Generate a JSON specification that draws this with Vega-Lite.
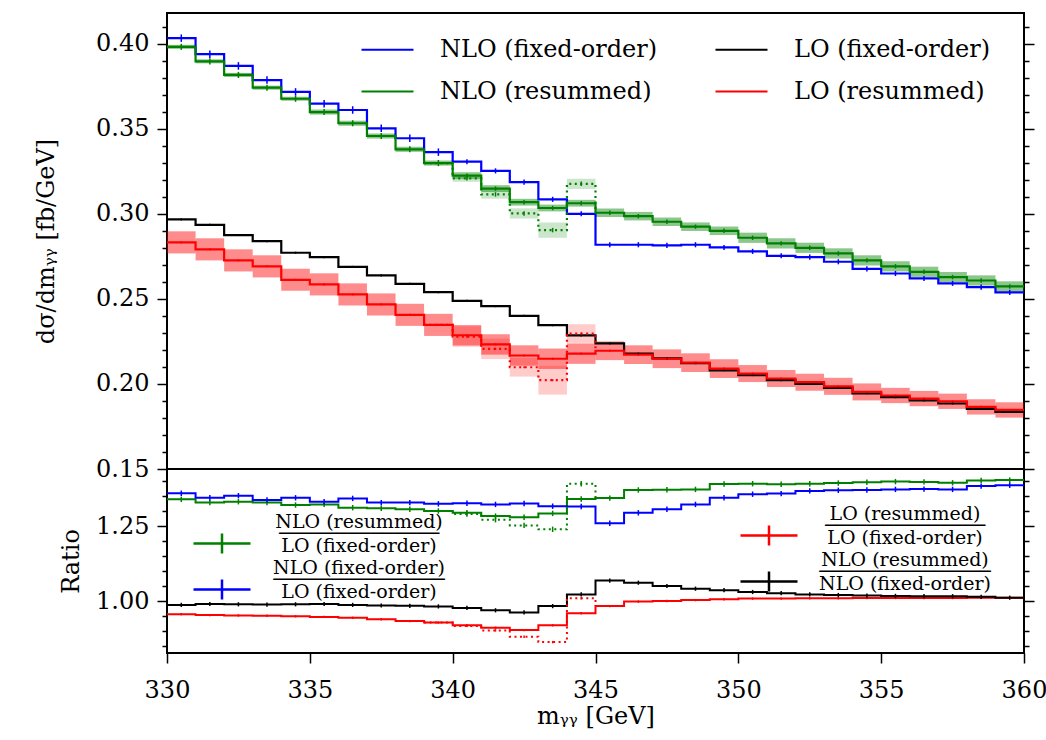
{
"$schema": "https://vega.github.io/schema/vega-lite/v6.json",
"padding": {"left": 33, "top": 12, "right": 5, "bottom": 5},
"bounds": "flush",
"spacing": 0,
"config": {
  "font": "DejaVu Serif",
  "view": {"stroke": "#000000", "strokeWidth": 2},
  "axis": {"labelFont": "DejaVu Serif", "labelFontSize": 24, "labelColor": "#000000", "titleFont": "DejaVu Serif", "titleFontSize": 24, "titleFontWeight": "normal", "titleColor": "#000000", "tickColor": "#000000", "tickWidth": 1.5, "domain": false, "grid": false, "labelOverlap": false, "labelFlush": false, "labelBound": false},
  "legend": {"labelFont": "DejaVu Serif", "labelColor": "#000000", "padding": 0, "labelLimit": 600},
  "style": {"guide-label": {"lineHeight": 12, "lineBreak": "\n"}}
},
"datasets": {
"top": [
{"s":"NLO (fixed-order)","a":330,"b":331,"m":330.5,"y":0.4032,"e":0.0022},
{"s":"NLO (fixed-order)","a":331,"b":332,"m":331.5,"y":0.3938,"e":0.0022},
{"s":"NLO (fixed-order)","a":332,"b":333,"m":332.5,"y":0.3869,"e":0.0022},
{"s":"NLO (fixed-order)","a":333,"b":334,"m":333.5,"y":0.3786,"e":0.0022},
{"s":"NLO (fixed-order)","a":334,"b":335,"m":334.5,"y":0.3716,"e":0.0022},
{"s":"NLO (fixed-order)","a":335,"b":336,"m":335.5,"y":0.3647,"e":0.0022},
{"s":"NLO (fixed-order)","a":336,"b":337,"m":336.5,"y":0.3610,"e":0.0022},
{"s":"NLO (fixed-order)","a":337,"b":338,"m":337.5,"y":0.3502,"e":0.0022},
{"s":"NLO (fixed-order)","a":338,"b":339,"m":338.5,"y":0.3444,"e":0.0022},
{"s":"NLO (fixed-order)","a":339,"b":340,"m":339.5,"y":0.3362,"e":0.0022},
{"s":"NLO (fixed-order)","a":340,"b":341,"m":340.5,"y":0.3306,"e":0.0015},
{"s":"NLO (fixed-order)","a":341,"b":342,"m":341.5,"y":0.3252,"e":0.0015},
{"s":"NLO (fixed-order)","a":342,"b":343,"m":342.5,"y":0.3186,"e":0.0015},
{"s":"NLO (fixed-order)","a":343,"b":344,"m":343.5,"y":0.3085,"e":0.0015},
{"s":"NLO (fixed-order)","a":344,"b":345,"m":344.5,"y":0.3000,"e":0.0015},
{"s":"NLO (fixed-order)","a":345,"b":346,"m":345.5,"y":0.2818,"e":0.0015},
{"s":"NLO (fixed-order)","a":346,"b":347,"m":346.5,"y":0.2818,"e":0.0015},
{"s":"NLO (fixed-order)","a":347,"b":348,"m":347.5,"y":0.2814,"e":0.0015},
{"s":"NLO (fixed-order)","a":348,"b":349,"m":348.5,"y":0.2818,"e":0.0015},
{"s":"NLO (fixed-order)","a":349,"b":350,"m":349.5,"y":0.2802,"e":0.0015},
{"s":"NLO (fixed-order)","a":350,"b":351,"m":350.5,"y":0.2779,"e":0.0015},
{"s":"NLO (fixed-order)","a":351,"b":352,"m":351.5,"y":0.2753,"e":0.0015},
{"s":"NLO (fixed-order)","a":352,"b":353,"m":352.5,"y":0.2745,"e":0.0015},
{"s":"NLO (fixed-order)","a":353,"b":354,"m":353.5,"y":0.2718,"e":0.0015},
{"s":"NLO (fixed-order)","a":354,"b":355,"m":354.5,"y":0.2676,"e":0.0015},
{"s":"NLO (fixed-order)","a":355,"b":356,"m":355.5,"y":0.2649,"e":0.0015},
{"s":"NLO (fixed-order)","a":356,"b":357,"m":356.5,"y":0.2620,"e":0.0015},
{"s":"NLO (fixed-order)","a":357,"b":358,"m":357.5,"y":0.2591,"e":0.0015},
{"s":"NLO (fixed-order)","a":358,"b":359,"m":358.5,"y":0.2569,"e":0.0015},
{"s":"NLO (fixed-order)","a":359,"b":360,"m":359.5,"y":0.2538,"e":0.0015},
{"s":"NLO (fixed-order)","a":360,"y":0.2538},
{"s":"NLO (resummed)","a":330,"b":331,"m":330.5,"y":0.3981,"e":0.0018,"l":0.3969,"h":0.3993},
{"s":"NLO (resummed)","a":331,"b":332,"m":331.5,"y":0.3896,"e":0.0018,"l":0.3884,"h":0.3908},
{"s":"NLO (resummed)","a":332,"b":333,"m":332.5,"y":0.3816,"e":0.0018,"l":0.3804,"h":0.3828},
{"s":"NLO (resummed)","a":333,"b":334,"m":333.5,"y":0.3741,"e":0.0018,"l":0.3729,"h":0.3753},
{"s":"NLO (resummed)","a":334,"b":335,"m":334.5,"y":0.3676,"e":0.0018,"l":0.3664,"h":0.3688},
{"s":"NLO (resummed)","a":335,"b":336,"m":335.5,"y":0.3598,"e":0.0018,"l":0.3583,"h":0.3613},
{"s":"NLO (resummed)","a":336,"b":337,"m":336.5,"y":0.3532,"e":0.0018,"l":0.3517,"h":0.3547},
{"s":"NLO (resummed)","a":337,"b":338,"m":337.5,"y":0.3457,"e":0.0018,"l":0.3442,"h":0.3472},
{"s":"NLO (resummed)","a":338,"b":339,"m":338.5,"y":0.3379,"e":0.0018,"l":0.3364,"h":0.3394},
{"s":"NLO (resummed)","a":339,"b":340,"m":339.5,"y":0.3298,"e":0.0018,"l":0.3283,"h":0.3313},
{"s":"NLO (resummed)","a":340,"b":341,"m":340.5,"y":0.3224,"e":0.0013,"l":0.3204,"h":0.3244},
{"s":"NLO (resummed)","a":341,"b":342,"m":341.5,"y":0.3148,"e":0.0013,"l":0.3128,"h":0.3168},
{"s":"NLO (resummed)","a":342,"b":343,"m":342.5,"y":0.3068,"e":0.0013,"l":0.3048,"h":0.3088},
{"s":"NLO (resummed)","a":343,"b":344,"m":343.5,"y":0.3034,"e":0.0013,"l":0.3014,"h":0.3054},
{"s":"NLO (resummed)","a":344,"b":345,"m":344.5,"y":0.3062,"e":0.0013,"l":0.3042,"h":0.3082},
{"s":"NLO (resummed)","a":345,"b":346,"m":345.5,"y":0.3006,"e":0.0013,"l":0.2981,"h":0.3031},
{"s":"NLO (resummed)","a":346,"b":347,"m":346.5,"y":0.2986,"e":0.0013,"l":0.2961,"h":0.3011},
{"s":"NLO (resummed)","a":347,"b":348,"m":347.5,"y":0.2953,"e":0.0013,"l":0.2928,"h":0.2978},
{"s":"NLO (resummed)","a":348,"b":349,"m":348.5,"y":0.2924,"e":0.0013,"l":0.2899,"h":0.2949},
{"s":"NLO (resummed)","a":349,"b":350,"m":349.5,"y":0.2900,"e":0.0013,"l":0.2875,"h":0.2925},
{"s":"NLO (resummed)","a":350,"b":351,"m":350.5,"y":0.2859,"e":0.0013,"l":0.2829,"h":0.2889},
{"s":"NLO (resummed)","a":351,"b":352,"m":351.5,"y":0.2826,"e":0.0013,"l":0.2796,"h":0.2856},
{"s":"NLO (resummed)","a":352,"b":353,"m":352.5,"y":0.2800,"e":0.0013,"l":0.2770,"h":0.2830},
{"s":"NLO (resummed)","a":353,"b":354,"m":353.5,"y":0.2767,"e":0.0013,"l":0.2737,"h":0.2797},
{"s":"NLO (resummed)","a":354,"b":355,"m":354.5,"y":0.2726,"e":0.0013,"l":0.2696,"h":0.2756},
{"s":"NLO (resummed)","a":355,"b":356,"m":355.5,"y":0.2691,"e":0.0013,"l":0.2661,"h":0.2721},
{"s":"NLO (resummed)","a":356,"b":357,"m":356.5,"y":0.2659,"e":0.0013,"l":0.2629,"h":0.2689},
{"s":"NLO (resummed)","a":357,"b":358,"m":357.5,"y":0.2628,"e":0.0013,"l":0.2598,"h":0.2658},
{"s":"NLO (resummed)","a":358,"b":359,"m":358.5,"y":0.2608,"e":0.0013,"l":0.2578,"h":0.2638},
{"s":"NLO (resummed)","a":359,"b":360,"m":359.5,"y":0.2573,"e":0.0013,"l":0.2543,"h":0.2603},
{"s":"NLO (resummed)","a":360,"y":0.2573},
{"s":"LO (fixed-order)","a":330,"b":331,"m":330.5,"y":0.2967,"e":0.0006},
{"s":"LO (fixed-order)","a":331,"b":332,"m":331.5,"y":0.2935,"e":0.0006},
{"s":"LO (fixed-order)","a":332,"b":333,"m":332.5,"y":0.2875,"e":0.0006},
{"s":"LO (fixed-order)","a":333,"b":334,"m":333.5,"y":0.2839,"e":0.0006},
{"s":"LO (fixed-order)","a":334,"b":335,"m":334.5,"y":0.2771,"e":0.0006},
{"s":"LO (fixed-order)","a":335,"b":336,"m":335.5,"y":0.2745,"e":0.0006},
{"s":"LO (fixed-order)","a":336,"b":337,"m":336.5,"y":0.2688,"e":0.0006},
{"s":"LO (fixed-order)","a":337,"b":338,"m":337.5,"y":0.2638,"e":0.0006},
{"s":"LO (fixed-order)","a":338,"b":339,"m":338.5,"y":0.2588,"e":0.0006},
{"s":"LO (fixed-order)","a":339,"b":340,"m":339.5,"y":0.2539,"e":0.0006},
{"s":"LO (fixed-order)","a":340,"b":341,"m":340.5,"y":0.2488,"e":0.0006},
{"s":"LO (fixed-order)","a":341,"b":342,"m":341.5,"y":0.2457,"e":0.0006},
{"s":"LO (fixed-order)","a":342,"b":343,"m":342.5,"y":0.2400,"e":0.0006},
{"s":"LO (fixed-order)","a":343,"b":344,"m":343.5,"y":0.2345,"e":0.0006},
{"s":"LO (fixed-order)","a":344,"b":345,"m":344.5,"y":0.2285,"e":0.0006},
{"s":"LO (fixed-order)","a":345,"b":346,"m":345.5,"y":0.2238,"e":0.0006},
{"s":"LO (fixed-order)","a":346,"b":347,"m":346.5,"y":0.2178,"e":0.0006},
{"s":"LO (fixed-order)","a":347,"b":348,"m":347.5,"y":0.2150,"e":0.0006},
{"s":"LO (fixed-order)","a":348,"b":349,"m":348.5,"y":0.2122,"e":0.0006},
{"s":"LO (fixed-order)","a":349,"b":350,"m":349.5,"y":0.2080,"e":0.0006},
{"s":"LO (fixed-order)","a":350,"b":351,"m":350.5,"y":0.2052,"e":0.0006},
{"s":"LO (fixed-order)","a":351,"b":352,"m":351.5,"y":0.2022,"e":0.0006},
{"s":"LO (fixed-order)","a":352,"b":353,"m":352.5,"y":0.2000,"e":0.0006},
{"s":"LO (fixed-order)","a":353,"b":354,"m":353.5,"y":0.1977,"e":0.0006},
{"s":"LO (fixed-order)","a":354,"b":355,"m":354.5,"y":0.1945,"e":0.0006},
{"s":"LO (fixed-order)","a":355,"b":356,"m":355.5,"y":0.1922,"e":0.0006},
{"s":"LO (fixed-order)","a":356,"b":357,"m":356.5,"y":0.1903,"e":0.0006},
{"s":"LO (fixed-order)","a":357,"b":358,"m":357.5,"y":0.1885,"e":0.0006},
{"s":"LO (fixed-order)","a":358,"b":359,"m":358.5,"y":0.1853,"e":0.0006},
{"s":"LO (fixed-order)","a":359,"b":360,"m":359.5,"y":0.1836,"e":0.0006},
{"s":"LO (fixed-order)","a":360,"y":0.1836},
{"s":"LO (resummed)","a":330,"b":331,"m":330.5,"y":0.2832,"e":0.0006,"l":0.2767,"h":0.2897},
{"s":"LO (resummed)","a":331,"b":332,"m":331.5,"y":0.2791,"e":0.0006,"l":0.2726,"h":0.2856},
{"s":"LO (resummed)","a":332,"b":333,"m":332.5,"y":0.2726,"e":0.0006,"l":0.2661,"h":0.2791},
{"s":"LO (resummed)","a":333,"b":334,"m":333.5,"y":0.2691,"e":0.0006,"l":0.2626,"h":0.2756},
{"s":"LO (resummed)","a":334,"b":335,"m":334.5,"y":0.2612,"e":0.0006,"l":0.2547,"h":0.2677},
{"s":"LO (resummed)","a":335,"b":336,"m":335.5,"y":0.2585,"e":0.0006,"l":0.2520,"h":0.2650},
{"s":"LO (resummed)","a":336,"b":337,"m":336.5,"y":0.2526,"e":0.0006,"l":0.2461,"h":0.2591},
{"s":"LO (resummed)","a":337,"b":338,"m":337.5,"y":0.2467,"e":0.0006,"l":0.2402,"h":0.2532},
{"s":"LO (resummed)","a":338,"b":339,"m":338.5,"y":0.2406,"e":0.0006,"l":0.2341,"h":0.2471},
{"s":"LO (resummed)","a":339,"b":340,"m":339.5,"y":0.2347,"e":0.0006,"l":0.2282,"h":0.2412},
{"s":"LO (resummed)","a":340,"b":341,"m":340.5,"y":0.2286,"e":0.0006,"l":0.2226,"h":0.2346},
{"s":"LO (resummed)","a":341,"b":342,"m":341.5,"y":0.2232,"e":0.0006,"l":0.2172,"h":0.2292},
{"s":"LO (resummed)","a":342,"b":343,"m":342.5,"y":0.2167,"e":0.0006,"l":0.2107,"h":0.2227},
{"s":"LO (resummed)","a":343,"b":344,"m":343.5,"y":0.2148,"e":0.0006,"l":0.2088,"h":0.2208},
{"s":"LO (resummed)","a":344,"b":345,"m":344.5,"y":0.2178,"e":0.0006,"l":0.2118,"h":0.2238},
{"s":"LO (resummed)","a":345,"b":346,"m":345.5,"y":0.2195,"e":0.0006,"l":0.2140,"h":0.2250},
{"s":"LO (resummed)","a":346,"b":347,"m":346.5,"y":0.2172,"e":0.0006,"l":0.2117,"h":0.2227},
{"s":"LO (resummed)","a":347,"b":348,"m":347.5,"y":0.2148,"e":0.0006,"l":0.2093,"h":0.2203},
{"s":"LO (resummed)","a":348,"b":349,"m":348.5,"y":0.2125,"e":0.0006,"l":0.2070,"h":0.2180},
{"s":"LO (resummed)","a":349,"b":350,"m":349.5,"y":0.2090,"e":0.0006,"l":0.2035,"h":0.2145},
{"s":"LO (resummed)","a":350,"b":351,"m":350.5,"y":0.2061,"e":0.0006,"l":0.2011,"h":0.2111},
{"s":"LO (resummed)","a":351,"b":352,"m":351.5,"y":0.2032,"e":0.0006,"l":0.1982,"h":0.2082},
{"s":"LO (resummed)","a":352,"b":353,"m":352.5,"y":0.2010,"e":0.0006,"l":0.1960,"h":0.2060},
{"s":"LO (resummed)","a":353,"b":354,"m":353.5,"y":0.1986,"e":0.0006,"l":0.1936,"h":0.2036},
{"s":"LO (resummed)","a":354,"b":355,"m":354.5,"y":0.1953,"e":0.0006,"l":0.1903,"h":0.2003},
{"s":"LO (resummed)","a":355,"b":356,"m":355.5,"y":0.1932,"e":0.0006,"l":0.1887,"h":0.1977},
{"s":"LO (resummed)","a":356,"b":357,"m":356.5,"y":0.1914,"e":0.0006,"l":0.1869,"h":0.1959},
{"s":"LO (resummed)","a":357,"b":358,"m":357.5,"y":0.1898,"e":0.0006,"l":0.1853,"h":0.1943},
{"s":"LO (resummed)","a":358,"b":359,"m":358.5,"y":0.1865,"e":0.0006,"l":0.1820,"h":0.1910},
{"s":"LO (resummed)","a":359,"b":360,"m":359.5,"y":0.1847,"e":0.0006,"l":0.1802,"h":0.1892},
{"s":"LO (resummed)","a":360,"y":0.1847}
],
"topalt": [
{"s":"NLO (resummed)","a":339,"y":0.3298},
{"s":"NLO (resummed)","a":340,"b":341,"m":340.5,"y":0.3208,"e":0.0013,"l":0.3188,"h":0.3228},
{"s":"NLO (resummed)","a":341,"b":342,"m":341.5,"y":0.3114,"e":0.0013,"l":0.3089,"h":0.3139},
{"s":"NLO (resummed)","a":342,"b":343,"m":342.5,"y":0.3002,"e":0.0013,"l":0.2972,"h":0.3032},
{"s":"NLO (resummed)","a":343,"b":344,"m":343.5,"y":0.2904,"e":0.0013,"l":0.2859,"h":0.2949},
{"s":"NLO (resummed)","a":344,"b":345,"m":344.5,"y":0.3176,"e":0.0013,"l":0.3146,"h":0.3206},
{"s":"NLO (resummed)","a":345,"y":0.3006},
{"s":"LO (resummed)","a":339,"y":0.2347},
{"s":"LO (resummed)","a":340,"b":341,"m":340.5,"y":0.2278,"e":0.0006,"l":0.2218,"h":0.2338},
{"s":"LO (resummed)","a":341,"b":342,"m":341.5,"y":0.2206,"e":0.0006,"l":0.2146,"h":0.2266},
{"s":"LO (resummed)","a":342,"b":343,"m":342.5,"y":0.2098,"e":0.0006,"l":0.2043,"h":0.2153},
{"s":"LO (resummed)","a":343,"b":344,"m":343.5,"y":0.2022,"e":0.0006,"l":0.1937,"h":0.2107},
{"s":"LO (resummed)","a":344,"b":345,"m":344.5,"y":0.2296,"e":0.0006,"l":0.2241,"h":0.2351},
{"s":"LO (resummed)","a":345,"y":0.2195}
],
"rl": [
{"r":"NLO (resummed) / LO (fixed-order)","a":330,"m":330.5,"y":1.339,"e":0.009},
{"r":"NLO (resummed) / LO (fixed-order)","a":331,"m":331.5,"y":1.328,"e":0.009},
{"r":"NLO (resummed) / LO (fixed-order)","a":332,"m":332.5,"y":1.331,"e":0.009},
{"r":"NLO (resummed) / LO (fixed-order)","a":333,"m":333.5,"y":1.328,"e":0.009},
{"r":"NLO (resummed) / LO (fixed-order)","a":334,"m":334.5,"y":1.320,"e":0.009},
{"r":"NLO (resummed) / LO (fixed-order)","a":335,"m":335.5,"y":1.322,"e":0.009},
{"r":"NLO (resummed) / LO (fixed-order)","a":336,"m":336.5,"y":1.311,"e":0.009},
{"r":"NLO (resummed) / LO (fixed-order)","a":337,"m":337.5,"y":1.309,"e":0.009},
{"r":"NLO (resummed) / LO (fixed-order)","a":338,"m":338.5,"y":1.306,"e":0.009},
{"r":"NLO (resummed) / LO (fixed-order)","a":339,"m":339.5,"y":1.300,"e":0.009},
{"r":"NLO (resummed) / LO (fixed-order)","a":340,"m":340.5,"y":1.294,"e":0.009},
{"r":"NLO (resummed) / LO (fixed-order)","a":341,"m":341.5,"y":1.283,"e":0.009},
{"r":"NLO (resummed) / LO (fixed-order)","a":342,"m":342.5,"y":1.279,"e":0.009},
{"r":"NLO (resummed) / LO (fixed-order)","a":343,"m":343.5,"y":1.292,"e":0.009},
{"r":"NLO (resummed) / LO (fixed-order)","a":344,"m":344.5,"y":1.340,"e":0.009},
{"r":"NLO (resummed) / LO (fixed-order)","a":345,"m":345.5,"y":1.343,"e":0.009},
{"r":"NLO (resummed) / LO (fixed-order)","a":346,"m":346.5,"y":1.370,"e":0.009},
{"r":"NLO (resummed) / LO (fixed-order)","a":347,"m":347.5,"y":1.371,"e":0.009},
{"r":"NLO (resummed) / LO (fixed-order)","a":348,"m":348.5,"y":1.372,"e":0.009},
{"r":"NLO (resummed) / LO (fixed-order)","a":349,"m":349.5,"y":1.390,"e":0.009},
{"r":"NLO (resummed) / LO (fixed-order)","a":350,"m":350.5,"y":1.391,"e":0.009},
{"r":"NLO (resummed) / LO (fixed-order)","a":351,"m":351.5,"y":1.389,"e":0.009},
{"r":"NLO (resummed) / LO (fixed-order)","a":352,"m":352.5,"y":1.391,"e":0.009},
{"r":"NLO (resummed) / LO (fixed-order)","a":353,"m":353.5,"y":1.393,"e":0.009},
{"r":"NLO (resummed) / LO (fixed-order)","a":354,"m":354.5,"y":1.396,"e":0.009},
{"r":"NLO (resummed) / LO (fixed-order)","a":355,"m":355.5,"y":1.398,"e":0.009},
{"r":"NLO (resummed) / LO (fixed-order)","a":356,"m":356.5,"y":1.397,"e":0.009},
{"r":"NLO (resummed) / LO (fixed-order)","a":357,"m":357.5,"y":1.394,"e":0.009},
{"r":"NLO (resummed) / LO (fixed-order)","a":358,"m":358.5,"y":1.402,"e":0.009},
{"r":"NLO (resummed) / LO (fixed-order)","a":359,"m":359.5,"y":1.403,"e":0.009},
{"r":"NLO (resummed) / LO (fixed-order)","a":360,"y":1.403},
{"r":"NLO (fixed-order) / LO (fixed-order)","a":330,"m":330.5,"y":1.359,"e":0.009},
{"r":"NLO (fixed-order) / LO (fixed-order)","a":331,"m":331.5,"y":1.344,"e":0.009},
{"r":"NLO (fixed-order) / LO (fixed-order)","a":332,"m":332.5,"y":1.351,"e":0.009},
{"r":"NLO (fixed-order) / LO (fixed-order)","a":333,"m":333.5,"y":1.337,"e":0.009},
{"r":"NLO (fixed-order) / LO (fixed-order)","a":334,"m":334.5,"y":1.344,"e":0.009},
{"r":"NLO (fixed-order) / LO (fixed-order)","a":335,"m":335.5,"y":1.331,"e":0.009},
{"r":"NLO (fixed-order) / LO (fixed-order)","a":336,"m":336.5,"y":1.342,"e":0.009},
{"r":"NLO (fixed-order) / LO (fixed-order)","a":337,"m":337.5,"y":1.328,"e":0.009},
{"r":"NLO (fixed-order) / LO (fixed-order)","a":338,"m":338.5,"y":1.328,"e":0.009},
{"r":"NLO (fixed-order) / LO (fixed-order)","a":339,"m":339.5,"y":1.324,"e":0.009},
{"r":"NLO (fixed-order) / LO (fixed-order)","a":340,"m":340.5,"y":1.326,"e":0.009},
{"r":"NLO (fixed-order) / LO (fixed-order)","a":341,"m":341.5,"y":1.322,"e":0.009},
{"r":"NLO (fixed-order) / LO (fixed-order)","a":342,"m":342.5,"y":1.325,"e":0.009},
{"r":"NLO (fixed-order) / LO (fixed-order)","a":343,"m":343.5,"y":1.316,"e":0.009},
{"r":"NLO (fixed-order) / LO (fixed-order)","a":344,"m":344.5,"y":1.315,"e":0.009},
{"r":"NLO (fixed-order) / LO (fixed-order)","a":345,"m":345.5,"y":1.259,"e":0.009},
{"r":"NLO (fixed-order) / LO (fixed-order)","a":346,"m":346.5,"y":1.294,"e":0.009},
{"r":"NLO (fixed-order) / LO (fixed-order)","a":347,"m":347.5,"y":1.306,"e":0.009},
{"r":"NLO (fixed-order) / LO (fixed-order)","a":348,"m":348.5,"y":1.322,"e":0.009},
{"r":"NLO (fixed-order) / LO (fixed-order)","a":349,"m":349.5,"y":1.344,"e":0.009},
{"r":"NLO (fixed-order) / LO (fixed-order)","a":350,"m":350.5,"y":1.356,"e":0.009},
{"r":"NLO (fixed-order) / LO (fixed-order)","a":351,"m":351.5,"y":1.358,"e":0.009},
{"r":"NLO (fixed-order) / LO (fixed-order)","a":352,"m":352.5,"y":1.367,"e":0.009},
{"r":"NLO (fixed-order) / LO (fixed-order)","a":353,"m":353.5,"y":1.369,"e":0.009},
{"r":"NLO (fixed-order) / LO (fixed-order)","a":354,"m":354.5,"y":1.370,"e":0.009},
{"r":"NLO (fixed-order) / LO (fixed-order)","a":355,"m":355.5,"y":1.372,"e":0.009},
{"r":"NLO (fixed-order) / LO (fixed-order)","a":356,"m":356.5,"y":1.373,"e":0.009},
{"r":"NLO (fixed-order) / LO (fixed-order)","a":357,"m":357.5,"y":1.372,"e":0.009},
{"r":"NLO (fixed-order) / LO (fixed-order)","a":358,"m":358.5,"y":1.383,"e":0.009},
{"r":"NLO (fixed-order) / LO (fixed-order)","a":359,"m":359.5,"y":1.386,"e":0.009},
{"r":"NLO (fixed-order) / LO (fixed-order)","a":360,"y":1.386}
],
"rla": [
{"r":"NLO (resummed) / LO (fixed-order)","a":339,"y":1.300},
{"r":"NLO (resummed) / LO (fixed-order)","a":340,"m":340.5,"y":1.290,"e":0.009},
{"r":"NLO (resummed) / LO (fixed-order)","a":341,"m":341.5,"y":1.271,"e":0.009},
{"r":"NLO (resummed) / LO (fixed-order)","a":342,"m":342.5,"y":1.252,"e":0.009},
{"r":"NLO (resummed) / LO (fixed-order)","a":343,"m":343.5,"y":1.239,"e":0.009},
{"r":"NLO (resummed) / LO (fixed-order)","a":344,"m":344.5,"y":1.391,"e":0.009},
{"r":"NLO (resummed) / LO (fixed-order)","a":345,"y":1.343}
],
"rr": [
{"r":"LO (resummed) / LO (fixed-order)","a":330,"m":330.5,"y":0.956,"lo":0.952,"hi":0.960},
{"r":"LO (resummed) / LO (fixed-order)","a":331,"m":331.5,"y":0.953,"lo":0.949,"hi":0.957},
{"r":"LO (resummed) / LO (fixed-order)","a":332,"m":332.5,"y":0.952,"lo":0.948,"hi":0.956},
{"r":"LO (resummed) / LO (fixed-order)","a":333,"m":333.5,"y":0.951,"lo":0.947,"hi":0.955},
{"r":"LO (resummed) / LO (fixed-order)","a":334,"m":334.5,"y":0.949,"lo":0.945,"hi":0.953},
{"r":"LO (resummed) / LO (fixed-order)","a":335,"m":335.5,"y":0.947,"lo":0.943,"hi":0.951},
{"r":"LO (resummed) / LO (fixed-order)","a":336,"m":336.5,"y":0.944,"lo":0.940,"hi":0.948},
{"r":"LO (resummed) / LO (fixed-order)","a":337,"m":337.5,"y":0.939,"lo":0.935,"hi":0.943},
{"r":"LO (resummed) / LO (fixed-order)","a":338,"m":338.5,"y":0.933,"lo":0.929,"hi":0.937},
{"r":"LO (resummed) / LO (fixed-order)","a":339,"m":339.5,"y":0.928,"lo":0.924,"hi":0.932},
{"r":"LO (resummed) / LO (fixed-order)","a":340,"m":340.5,"y":0.919,"lo":0.915,"hi":0.923},
{"r":"LO (resummed) / LO (fixed-order)","a":341,"m":341.5,"y":0.911,"lo":0.907,"hi":0.915},
{"r":"LO (resummed) / LO (fixed-order)","a":342,"m":342.5,"y":0.903,"lo":0.899,"hi":0.907},
{"r":"LO (resummed) / LO (fixed-order)","a":343,"m":343.5,"y":0.919,"lo":0.915,"hi":0.923},
{"r":"LO (resummed) / LO (fixed-order)","a":344,"m":344.5,"y":0.959,"lo":0.955,"hi":0.963},
{"r":"LO (resummed) / LO (fixed-order)","a":345,"m":345.5,"y":0.983,"lo":0.979,"hi":0.987},
{"r":"LO (resummed) / LO (fixed-order)","a":346,"m":346.5,"y":0.998,"lo":0.994,"hi":1.002},
{"r":"LO (resummed) / LO (fixed-order)","a":347,"m":347.5,"y":1.000,"lo":0.996,"hi":1.004},
{"r":"LO (resummed) / LO (fixed-order)","a":348,"m":348.5,"y":1.003,"lo":0.999,"hi":1.007},
{"r":"LO (resummed) / LO (fixed-order)","a":349,"m":349.5,"y":1.006,"lo":1.002,"hi":1.010},
{"r":"LO (resummed) / LO (fixed-order)","a":350,"m":350.5,"y":1.008,"lo":1.004,"hi":1.012},
{"r":"LO (resummed) / LO (fixed-order)","a":351,"m":351.5,"y":1.008,"lo":1.004,"hi":1.012},
{"r":"LO (resummed) / LO (fixed-order)","a":352,"m":352.5,"y":1.009,"lo":1.005,"hi":1.013},
{"r":"LO (resummed) / LO (fixed-order)","a":353,"m":353.5,"y":1.009,"lo":1.005,"hi":1.013},
{"r":"LO (resummed) / LO (fixed-order)","a":354,"m":354.5,"y":1.010,"lo":1.006,"hi":1.014},
{"r":"LO (resummed) / LO (fixed-order)","a":355,"m":355.5,"y":1.010,"lo":1.006,"hi":1.014},
{"r":"LO (resummed) / LO (fixed-order)","a":356,"m":356.5,"y":1.010,"lo":1.006,"hi":1.014},
{"r":"LO (resummed) / LO (fixed-order)","a":357,"m":357.5,"y":1.010,"lo":1.006,"hi":1.014},
{"r":"LO (resummed) / LO (fixed-order)","a":358,"m":358.5,"y":1.011,"lo":1.007,"hi":1.015},
{"r":"LO (resummed) / LO (fixed-order)","a":359,"m":359.5,"y":1.011,"lo":1.007,"hi":1.015},
{"r":"LO (resummed) / LO (fixed-order)","a":360,"y":1.011},
{"r":"NLO (resummed) / NLO (fixed-order)","a":330,"m":330.5,"y":0.987,"lo":0.980,"hi":0.994},
{"r":"NLO (resummed) / NLO (fixed-order)","a":331,"m":331.5,"y":0.990,"lo":0.983,"hi":0.997},
{"r":"NLO (resummed) / NLO (fixed-order)","a":332,"m":332.5,"y":0.989,"lo":0.982,"hi":0.996},
{"r":"NLO (resummed) / NLO (fixed-order)","a":333,"m":333.5,"y":0.988,"lo":0.981,"hi":0.995},
{"r":"NLO (resummed) / NLO (fixed-order)","a":334,"m":334.5,"y":0.989,"lo":0.982,"hi":0.996},
{"r":"NLO (resummed) / NLO (fixed-order)","a":335,"m":335.5,"y":0.990,"lo":0.983,"hi":0.997},
{"r":"NLO (resummed) / NLO (fixed-order)","a":336,"m":336.5,"y":0.987,"lo":0.980,"hi":0.994},
{"r":"NLO (resummed) / NLO (fixed-order)","a":337,"m":337.5,"y":0.985,"lo":0.978,"hi":0.992},
{"r":"NLO (resummed) / NLO (fixed-order)","a":338,"m":338.5,"y":0.984,"lo":0.977,"hi":0.991},
{"r":"NLO (resummed) / NLO (fixed-order)","a":339,"m":339.5,"y":0.982,"lo":0.975,"hi":0.989},
{"r":"NLO (resummed) / NLO (fixed-order)","a":340,"m":340.5,"y":0.977,"lo":0.970,"hi":0.984},
{"r":"NLO (resummed) / NLO (fixed-order)","a":341,"m":341.5,"y":0.969,"lo":0.962,"hi":0.976},
{"r":"NLO (resummed) / NLO (fixed-order)","a":342,"m":342.5,"y":0.962,"lo":0.955,"hi":0.969},
{"r":"NLO (resummed) / NLO (fixed-order)","a":343,"m":343.5,"y":0.983,"lo":0.976,"hi":0.990},
{"r":"NLO (resummed) / NLO (fixed-order)","a":344,"m":344.5,"y":1.022,"lo":1.015,"hi":1.029},
{"r":"NLO (resummed) / NLO (fixed-order)","a":345,"m":345.5,"y":1.068,"lo":1.061,"hi":1.075},
{"r":"NLO (resummed) / NLO (fixed-order)","a":346,"m":346.5,"y":1.061,"lo":1.054,"hi":1.068},
{"r":"NLO (resummed) / NLO (fixed-order)","a":347,"m":347.5,"y":1.050,"lo":1.043,"hi":1.057},
{"r":"NLO (resummed) / NLO (fixed-order)","a":348,"m":348.5,"y":1.041,"lo":1.034,"hi":1.048},
{"r":"NLO (resummed) / NLO (fixed-order)","a":349,"m":349.5,"y":1.036,"lo":1.029,"hi":1.043},
{"r":"NLO (resummed) / NLO (fixed-order)","a":350,"m":350.5,"y":1.030,"lo":1.023,"hi":1.037},
{"r":"NLO (resummed) / NLO (fixed-order)","a":351,"m":351.5,"y":1.026,"lo":1.019,"hi":1.033},
{"r":"NLO (resummed) / NLO (fixed-order)","a":352,"m":352.5,"y":1.022,"lo":1.015,"hi":1.029},
{"r":"NLO (resummed) / NLO (fixed-order)","a":353,"m":353.5,"y":1.020,"lo":1.013,"hi":1.027},
{"r":"NLO (resummed) / NLO (fixed-order)","a":354,"m":354.5,"y":1.018,"lo":1.011,"hi":1.025},
{"r":"NLO (resummed) / NLO (fixed-order)","a":355,"m":355.5,"y":1.017,"lo":1.010,"hi":1.024},
{"r":"NLO (resummed) / NLO (fixed-order)","a":356,"m":356.5,"y":1.016,"lo":1.009,"hi":1.023},
{"r":"NLO (resummed) / NLO (fixed-order)","a":357,"m":357.5,"y":1.016,"lo":1.009,"hi":1.023},
{"r":"NLO (resummed) / NLO (fixed-order)","a":358,"m":358.5,"y":1.014,"lo":1.007,"hi":1.021},
{"r":"NLO (resummed) / NLO (fixed-order)","a":359,"m":359.5,"y":1.011,"lo":1.004,"hi":1.018},
{"r":"NLO (resummed) / NLO (fixed-order)","a":360,"y":1.011}
],
"rra": [
{"r":"LO (resummed) / LO (fixed-order)","a":339,"y":0.928},
{"r":"LO (resummed) / LO (fixed-order)","a":340,"m":340.5,"y":0.917,"lo":0.913,"hi":0.921},
{"r":"LO (resummed) / LO (fixed-order)","a":341,"m":341.5,"y":0.902,"lo":0.898,"hi":0.906},
{"r":"LO (resummed) / LO (fixed-order)","a":342,"m":342.5,"y":0.881,"lo":0.877,"hi":0.885},
{"r":"LO (resummed) / LO (fixed-order)","a":343,"m":343.5,"y":0.863,"lo":0.859,"hi":0.867},
{"r":"LO (resummed) / LO (fixed-order)","a":344,"m":344.5,"y":1.009,"lo":1.005,"hi":1.013},
{"r":"LO (resummed) / LO (fixed-order)","a":345,"y":0.983}
]
},
"vconcat": [
{
  "width": 857, "height": 456,
  "layer": [
    {"data": {"name": "top"}, "transform": [{"filter": "isValid(datum.l)"}],
     "mark": {"type": "rect", "fillOpacity": 0.45},
     "encoding": {
       "x": {"field": "a", "type": "quantitative", "scale": {"domain": [330, 360], "nice": false, "zero": false}, "axis": null},
       "x2": {"field": "b"},
       "y": {"field": "l", "type": "quantitative", "scale": {"domain": [0.15, 0.418], "nice": false, "zero": false}, "axis": null},
       "y2": {"field": "h"},
       "fill": {"field": "s", "type": "nominal", "legend": null,
                "scale": {"domain": ["NLO (resummed)", "LO (resummed)"], "range": ["#008000", "#ff0000"]}}}},
    {"data": {"name": "topalt"}, "transform": [{"filter": "isValid(datum.l)"}],
     "mark": {"type": "rect", "fillOpacity": 0.2},
     "encoding": {
       "x": {"field": "a", "type": "quantitative", "axis": null},
       "x2": {"field": "b"},
       "y": {"field": "l", "type": "quantitative", "axis": null},
       "y2": {"field": "h"},
       "fill": {"field": "s", "type": "nominal", "legend": null}}},
    {"data": {"name": "top"},
     "mark": {"type": "line", "interpolate": "step-after", "strokeWidth": 2.2},
     "encoding": {
       "x": {"field": "a", "type": "quantitative", "axis": null},
       "y": {"field": "y", "type": "quantitative",
             "axis": {"orient": "left", "title": "dσ/dmᵧᵧ  [fb/GeV]", "titlePadding": 37, "labelPadding": 8,
                      "values": [0.15,0.16,0.17,0.18,0.19,0.2,0.21,0.22,0.23,0.24,0.25,0.26,0.27,0.28,0.29,0.3,0.31,0.32,0.33,0.34,0.35,0.36,0.37,0.38,0.39,0.4,0.41],
                      "labelExpr": "abs(datum.value*20 - round(datum.value*20)) < 0.001 ? format(datum.value, '.2f') : ''",
                      "tickSize": {"condition": {"test": "abs(datum.value*20 - round(datum.value*20)) < 0.001", "value": 10}, "value": 5}}},
       "stroke": {"field": "s", "type": "nominal",
                 "scale": {"domain": ["NLO (fixed-order)", "NLO (resummed)", "LO (fixed-order)", "LO (resummed)"], "range": ["#0000ff", "#008000", "#000000", "#ff0000"]},
                 "legend": {"title": null, "orient": "none", "legendX": 193, "legendY": 9, "columns": 2, "symbolType": "stroke", "symbolSize": 2704, "symbolStrokeWidth": 2.2, "labelFontSize": 24, "labelOffset": 25, "columnPadding": 53, "rowPadding": 2}}}},
    {"data": {"name": "topalt"},
     "mark": {"type": "line", "interpolate": "step-after", "strokeWidth": 2.2, "strokeDash": [2, 3.5]},
     "encoding": {
       "x": {"field": "a", "type": "quantitative", "axis": null},
       "y": {"field": "y", "type": "quantitative",
             "axis": {"orient": "right", "labels": false, "title": null,
                      "values": [0.15,0.16,0.17,0.18,0.19,0.2,0.21,0.22,0.23,0.24,0.25,0.26,0.27,0.28,0.29,0.3,0.31,0.32,0.33,0.34,0.35,0.36,0.37,0.38,0.39,0.4,0.41],
                      "tickSize": {"condition": {"test": "abs(datum.value*20 - round(datum.value*20)) < 0.001", "value": 10}, "value": 5}}},
       "stroke": {"field": "s", "type": "nominal", "legend": null}}},
    {"data": {"name": "top"}, "transform": [{"filter": "isValid(datum.e)"}],
     "mark": {"type": "errorbar", "thickness": 1.5},
     "encoding": {
       "x": {"field": "m", "type": "quantitative", "axis": null},
       "y": {"field": "y", "type": "quantitative", "axis": null},
       "yError": {"field": "e"},
       "color": {"field": "s", "type": "nominal", "legend": null,
                 "scale": {"domain": ["NLO (resummed)", "LO (resummed)", "NLO (fixed-order)", "LO (fixed-order)"], "range": ["#008000", "#ff0000", "#0000ff", "#000000"]}}}},
    {"data": {"name": "topalt"}, "transform": [{"filter": "isValid(datum.e)"}],
     "mark": {"type": "errorbar", "thickness": 1.5},
     "encoding": {
       "x": {"field": "m", "type": "quantitative", "axis": null},
       "y": {"field": "y", "type": "quantitative", "axis": null},
       "yError": {"field": "e"},
       "color": {"field": "s", "type": "nominal", "legend": null}}}
  ],
  "resolve": {"axis": {"y": "independent"}, "legend": {"stroke": "independent", "fill": "independent", "color": "independent"}}
},
{
  "width": 857, "height": 184,
  "layer": [
    {"data": {"name": "rl"},
     "mark": {"type": "line", "interpolate": "step-after", "strokeWidth": 2},
     "encoding": {
       "x": {"field": "a", "type": "quantitative", "scale": {"domain": [330, 360], "nice": false, "zero": false},
             "axis": {"orient": "bottom", "title": "mᵧᵧ [GeV]", "values": [330, 335, 340, 345, 350, 355, 360], "tickSize": 10, "labelPadding": 15, "titlePadding": 2}},
       "y": {"field": "y", "type": "quantitative", "scale": {"domain": [0.8267, 1.44], "nice": false, "zero": false},
             "axis": {"orient": "left", "title": "Ratio", "titlePadding": 12, "labelPadding": 8,
                      "values": [0.85,0.9,0.95,1.0,1.05,1.1,1.15,1.2,1.25,1.3,1.35,1.4],
                      "labelExpr": "abs(datum.value*4 - round(datum.value*4)) < 0.001 ? format(datum.value, '.2f') : ''",
                      "tickSize": {"condition": {"test": "abs(datum.value*4 - round(datum.value*4)) < 0.001", "value": 10}, "value": 5}}},
       "color": {"field": "r", "type": "nominal",
                 "scale": {"domain": ["NLO (resummed) / LO (fixed-order)", "NLO (fixed-order) / LO (fixed-order)"], "range": ["#008000", "#0000ff"]},
                 "legend": {"title": null, "orient": "none", "legendX": 25, "legendY": 41, "clipHeight": 43, "symbolType": "M-1,0.42H1M0,0.07V0.77", "symbolSize": 3249, "symbolStrokeWidth": 2.5, "labelFontSize": 19, "labelAlign": "center", "labelBaseline": "bottom", "labelOffset": 107, "rowPadding": 0,
                            "labelExpr": "replace(datum.label, ' / ', length(datum.label) > 33 ? '\\n───────────────\\n' : '\\n──────────────\\n')"}}}},
    {"data": {"name": "rla"},
     "mark": {"type": "line", "interpolate": "step-after", "strokeWidth": 2, "strokeDash": [2, 3.5]},
     "encoding": {
       "x": {"field": "a", "type": "quantitative", "axis": null},
       "y": {"field": "y", "type": "quantitative", "axis": null},
       "color": {"field": "r", "type": "nominal", "legend": null}}},
    {"data": {"name": "rl"}, "transform": [{"filter": "isValid(datum.e)"}],
     "mark": {"type": "errorbar", "thickness": 1.5},
     "encoding": {
       "x": {"field": "m", "type": "quantitative", "axis": null},
       "y": {"field": "y", "type": "quantitative", "axis": null},
       "yError": {"field": "e"},
       "color": {"field": "r", "type": "nominal", "legend": null}}},
    {"data": {"name": "rla"}, "transform": [{"filter": "isValid(datum.e)"}],
     "mark": {"type": "errorbar", "thickness": 1.5},
     "encoding": {
       "x": {"field": "m", "type": "quantitative", "axis": null},
       "y": {"field": "y", "type": "quantitative", "axis": null},
       "yError": {"field": "e"},
       "color": {"field": "r", "type": "nominal", "legend": null}}},
    {"data": {"name": "rr"},
     "mark": {"type": "line", "interpolate": "step-after", "strokeWidth": 2},
     "encoding": {
       "x": {"field": "a", "type": "quantitative", "axis": null},
       "y": {"field": "y", "type": "quantitative",
             "axis": {"orient": "right", "labels": false, "title": null,
                      "values": [0.85,0.9,0.95,1.0,1.05,1.1,1.15,1.2,1.25,1.3,1.35,1.4],
                      "tickSize": {"condition": {"test": "abs(datum.value*4 - round(datum.value*4)) < 0.001", "value": 10}, "value": 5}}},
       "stroke": {"field": "r", "type": "nominal",
                  "scale": {"domain": ["LO (resummed) / LO (fixed-order)", "NLO (resummed) / NLO (fixed-order)"], "range": ["#ff0000", "#000000"]},
                  "legend": {"title": null, "orient": "none", "legendX": 572, "legendY": 33, "clipHeight": 43, "symbolType": "M-1,0.42H1M0,0.07V0.77", "symbolSize": 3249, "symbolStrokeWidth": 2.5, "labelFontSize": 19, "labelAlign": "center", "labelBaseline": "bottom", "labelOffset": 106, "rowPadding": 0,
                             "labelExpr": "replace(datum.label, ' / ', length(datum.label) > 33 ? '\\n───────────────\\n' : '\\n──────────────\\n')"}}}},
    {"data": {"name": "rra"},
     "mark": {"type": "line", "interpolate": "step-after", "strokeWidth": 2, "strokeDash": [2, 3.5]},
     "encoding": {
       "x": {"field": "a", "type": "quantitative", "axis": null},
       "y": {"field": "y", "type": "quantitative", "axis": null},
       "stroke": {"field": "r", "type": "nominal", "legend": null}}},
    {"data": {"name": "rr"}, "transform": [{"filter": "isValid(datum.lo)"}],
     "mark": {"type": "rule", "strokeWidth": 1.5},
     "encoding": {
       "x": {"field": "m", "type": "quantitative", "axis": null},
       "y": {"field": "lo", "type": "quantitative", "axis": null},
       "y2": {"field": "hi"},
       "stroke": {"field": "r", "type": "nominal", "legend": null}}},
    {"data": {"name": "rra"}, "transform": [{"filter": "isValid(datum.lo)"}],
     "mark": {"type": "rule", "strokeWidth": 1.5},
     "encoding": {
       "x": {"field": "m", "type": "quantitative", "axis": null},
       "y": {"field": "lo", "type": "quantitative", "axis": null},
       "y2": {"field": "hi"},
       "stroke": {"field": "r", "type": "nominal", "legend": null}}}
  ],
  "resolve": {"axis": {"y": "independent", "x": "independent"}}
}
],
"resolve": {"scale": {"color": "independent", "stroke": "independent", "fill": "independent"}}
}
